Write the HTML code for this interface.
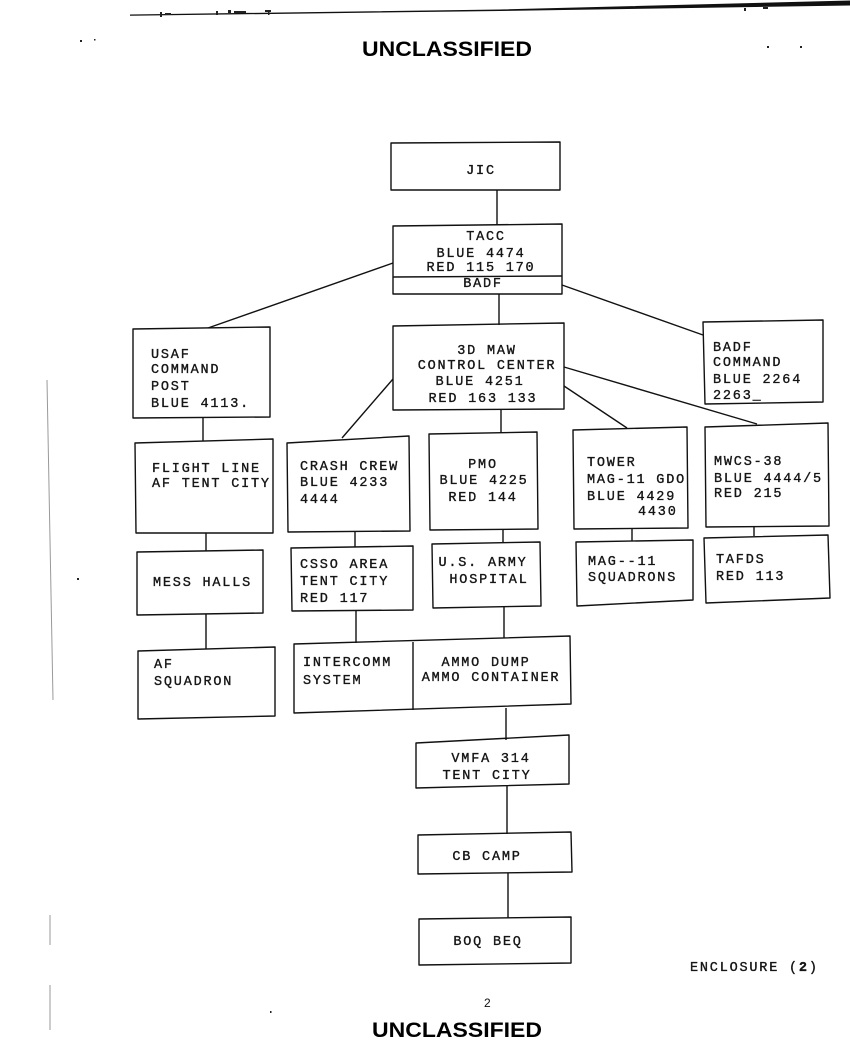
<!DOCTYPE html>
<html>
<head>
<meta charset="utf-8">
<style>
  html, body { margin: 0; padding: 0; background: #fff; }
  body { width: 850px; height: 1063px; overflow: hidden; }
  svg { display: block; }
  .t { font-family: "Liberation Mono", "DejaVu Sans Mono", monospace; font-size: 13.5px; letter-spacing: 1.8px; fill: #151515; stroke: #151515; stroke-width: 0.35px; }
  .c { text-anchor: middle; }
  .h { font-family: "Liberation Sans", Arial, sans-serif; font-weight: bold; font-size: 21px; fill: #000; }
</style>
</head>
<body>
<svg width="850" height="1063" viewBox="0 0 850 1063" xmlns="http://www.w3.org/2000/svg">
  <rect x="0" y="0" width="850" height="1063" fill="#fff"/>

  <!-- top scan line + artifacts -->
  <polygon points="130,14.5 500,9.5 850,0.5 850,5.5 500,11 130,15.8" fill="#111"/>
  <g fill="#222">
    <rect x="160" y="12" width="2" height="5"/>
    <rect x="165" y="13" width="6" height="2"/>
    <rect x="216" y="11" width="2" height="4"/>
    <rect x="228" y="10" width="3" height="3"/>
    <rect x="234" y="11" width="12" height="2"/>
    <rect x="265" y="10" width="6" height="2"/>
    <rect x="268" y="12" width="1.5" height="3"/>
    <rect x="744" y="8" width="2" height="3"/>
    <rect x="763" y="7" width="5" height="2"/>
    <rect x="80" y="40" width="2" height="2"/>
    <rect x="94" y="39" width="1.5" height="1.5"/>
    <rect x="767" y="46" width="2" height="2"/>
    <rect x="800" y="46" width="2" height="2"/>
    <rect x="77" y="578" width="2" height="2"/>
    <rect x="270" y="1011" width="1.5" height="2"/>
  </g>
  <!-- faint left margin lines -->
  <g stroke="#999" stroke-width="1" fill="none">
    <line x1="47" y1="380" x2="53" y2="700"/>
    <line x1="50" y1="915" x2="50" y2="945"/>
    <line x1="50" y1="985" x2="50" y2="1030"/>
  </g>

  <text class="h" x="362" y="56" textLength="170" lengthAdjust="spacingAndGlyphs">UNCLASSIFIED</text>

  <!-- boxes -->
  <g fill="none" stroke="#111" stroke-width="1.4" stroke-linejoin="round">
    <polygon points="391,143 560,142 560,190 391,190"/>
    <polygon points="393,226 562,224 562,294 393,294"/>
    <line x1="393" y1="277" x2="562" y2="276"/>
    <polygon points="133,329 270,327 270,417 133,418"/>
    <polygon points="393,326 564,323 564,409 393,410"/>
    <polygon points="703,322 823,320 823,402 705,404"/>
    <polygon points="135,443 273,439 273,533 136,533"/>
    <polygon points="287,443 409,436 410,531 288,532"/>
    <polygon points="429,434 537,432 538,529 430,530"/>
    <polygon points="573,430 687,427 688,528 574,529"/>
    <polygon points="705,427 828,423 829,526 706,527"/>
    <polygon points="137,552 263,550 263,613 137,615"/>
    <polygon points="291,548 413,546 413,610 292,611"/>
    <polygon points="432,544 540,542 541,606 433,608"/>
    <polygon points="576,542 693,540 693,600 577,606"/>
    <polygon points="704,538 828,535 830,598 706,603"/>
    <polygon points="138,651 275,647 275,716 138,719"/>
    <polygon points="294,644 570,636 571,704 294,713"/>
    <line x1="413" y1="642" x2="413" y2="710"/>
    <polygon points="416,743 569,735 569,784 416,788"/>
    <polygon points="418,835 571,832 572,872 418,874"/>
    <polygon points="419,919 571,917 571,963 419,965"/>
  </g>

  <!-- connectors -->
  <g stroke="#111" stroke-width="1.4" fill="none">
    <line x1="497" y1="190" x2="497" y2="225"/>
    <line x1="393" y1="263" x2="208" y2="328"/>
    <line x1="562" y1="285" x2="703" y2="335"/>
    <line x1="499" y1="294" x2="499" y2="325"/>
    <line x1="393" y1="379" x2="342" y2="438"/>
    <line x1="564" y1="386" x2="627" y2="428"/>
    <line x1="564" y1="367" x2="757" y2="424"/>
    <line x1="501" y1="410" x2="501" y2="433"/>
    <line x1="203" y1="418" x2="203" y2="441"/>
    <line x1="206" y1="533" x2="206" y2="551"/>
    <line x1="355" y1="532" x2="355" y2="547"/>
    <line x1="503" y1="529" x2="503" y2="543"/>
    <line x1="632" y1="528" x2="632" y2="541"/>
    <line x1="754" y1="527" x2="754" y2="536"/>
    <line x1="206" y1="614" x2="206" y2="649"/>
    <line x1="356" y1="610" x2="356" y2="643"/>
    <line x1="504" y1="607" x2="504" y2="638"/>
    <line x1="506" y1="708" x2="506" y2="740"/>
    <line x1="507" y1="786" x2="507" y2="834"/>
    <line x1="508" y1="873" x2="508" y2="918"/>
  </g>

  <!-- labels -->
  <text class="t c" x="481" y="174">JIC</text>

  <text class="t c" x="486" y="240">TACC</text>
  <text class="t c" x="481" y="257">BLUE 4474</text>
  <text class="t c" x="481" y="271">RED 115 170</text>
  <text class="t c" x="483" y="287">BADF</text>

  <text class="t" x="151" y="358">USAF</text>
  <text class="t" x="151" y="373">COMMAND</text>
  <text class="t" x="151" y="390">POST</text>
  <text class="t" x="151" y="407">BLUE 4113.</text>

  <text class="t c" x="487" y="354">3D MAW</text>
  <text class="t c" x="487" y="369">CONTROL CENTER</text>
  <text class="t c" x="480" y="385">BLUE 4251</text>
  <text class="t c" x="483" y="402">RED 163 133</text>

  <text class="t" x="713" y="351">BADF</text>
  <text class="t" x="713" y="366">COMMAND</text>
  <text class="t" x="713" y="383">BLUE 2264</text>
  <text class="t" x="713" y="399">2263_</text>

  <text class="t" x="152" y="472">FLIGHT LINE</text>
  <text class="t" x="152" y="487">AF TENT CITY</text>

  <text class="t" x="300" y="470">CRASH CREW</text>
  <text class="t" x="300" y="486">BLUE 4233</text>
  <text class="t" x="300" y="503">4444</text>

  <text class="t c" x="483" y="468">PMO</text>
  <text class="t c" x="484" y="484">BLUE 4225</text>
  <text class="t c" x="483" y="501">RED 144</text>

  <text class="t" x="587" y="466">TOWER</text>
  <text class="t" x="587" y="483">MAG-11 GDO</text>
  <text class="t" x="587" y="500">BLUE 4429</text>
  <text class="t" x="638" y="515">4430</text>

  <text class="t" x="714" y="465">MWCS-38</text>
  <text class="t" x="714" y="482">BLUE 4444/5</text>
  <text class="t" x="714" y="497">RED 215</text>

  <text class="t" x="153" y="586">MESS HALLS</text>

  <text class="t" x="300" y="568">CSSO AREA</text>
  <text class="t" x="300" y="585">TENT CITY</text>
  <text class="t" x="300" y="602">RED 117</text>

  <text class="t c" x="483" y="566">U.S. ARMY</text>
  <text class="t c" x="489" y="583">HOSPITAL</text>

  <text class="t" x="588" y="565">MAG--11</text>
  <text class="t" x="588" y="581">SQUADRONS</text>

  <text class="t" x="716" y="563">TAFDS</text>
  <text class="t" x="716" y="580">RED 113</text>

  <text class="t" x="154" y="668">AF</text>
  <text class="t" x="154" y="685">SQUADRON</text>

  <text class="t" x="303" y="666">INTERCOMM</text>
  <text class="t" x="303" y="684">SYSTEM</text>

  <text class="t c" x="486" y="666">AMMO DUMP</text>
  <text class="t c" x="491" y="681">AMMO CONTAINER</text>

  <text class="t c" x="491" y="762">VMFA 314</text>
  <text class="t c" x="487" y="779">TENT CITY</text>

  <text class="t c" x="487" y="860">CB CAMP</text>

  <text class="t c" x="488" y="945">BOQ BEQ</text>

  <text class="t" x="690" y="971">ENCLOSURE (<tspan font-weight="bold">2</tspan>)</text>

  <text x="484" y="1007" font-family="Liberation Sans, Arial, sans-serif" font-size="12" fill="#111">2</text>
  <text class="h" x="372" y="1037" textLength="170" lengthAdjust="spacingAndGlyphs">UNCLASSIFIED</text>
</svg>
</body>
</html>
